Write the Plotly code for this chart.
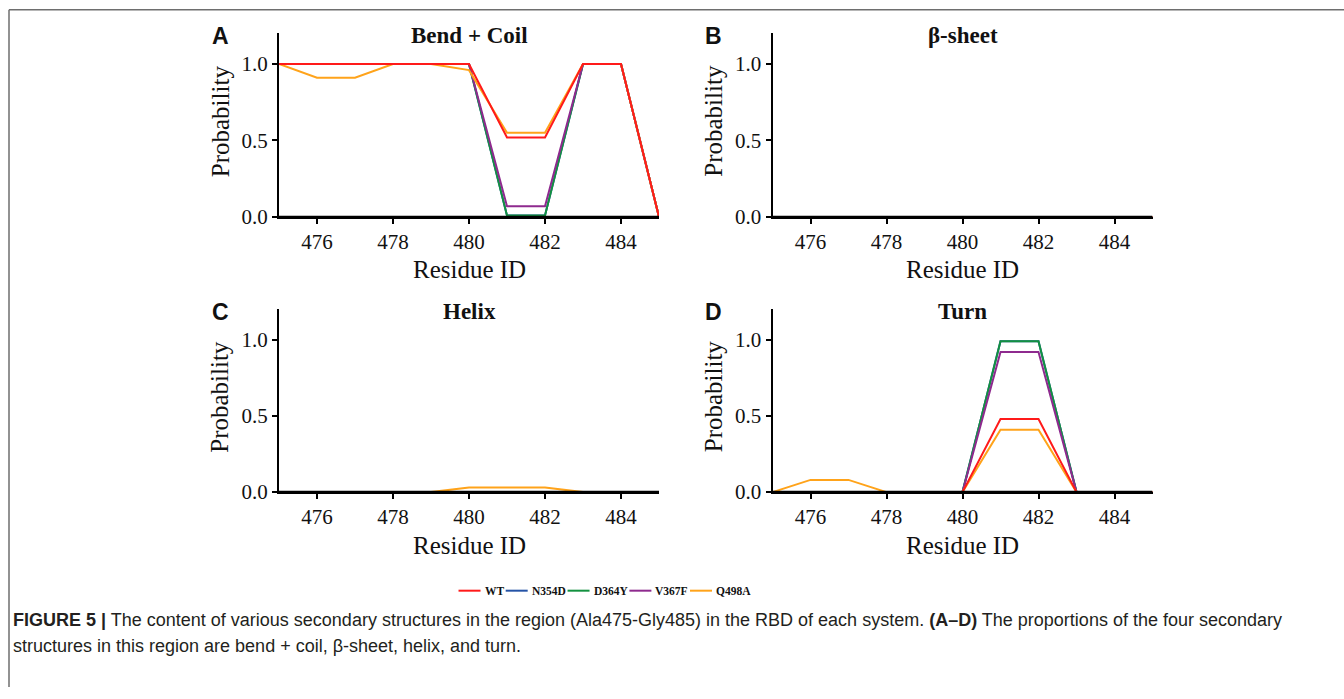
import plotly.graph_objects as go

W, H = 1344, 699

residues = [475, 476, 477, 478, 479, 480, 481, 482, 483, 484, 485]
systems = ["WT", "N354D", "D364Y", "V367F", "Q498A"]
colors = {"WT": "#ff1a1a", "N354D": "#2453a6", "D364Y": "#139140",
          "V367F": "#8e2a8e", "Q498A": "#ffa31a"}

bend_coil = {
    "WT":    [1, 1, 1, 1, 1, 1, 0.52, 0.52, 1, 1, 0],
    "N354D": [1, 1, 1, 1, 1, 1, 0.01, 0.01, 1, 1, 0],
    "D364Y": [1, 1, 1, 1, 1, 1, 0.01, 0.01, 1, 1, 0],
    "V367F": [1, 1, 1, 1, 1, 1, 0.07, 0.07, 1, 1, 0],
    "Q498A": [1, 0.91, 0.91, 1, 1, 0.96, 0.55, 0.55, 1, 1, 0],
}
beta_sheet = {s: [0] * 11 for s in systems}
helix = {
    "WT":    [0] * 11,
    "N354D": [0] * 11,
    "D364Y": [0] * 11,
    "V367F": [0] * 11,
    "Q498A": [0, 0, 0, 0, 0, 0.03, 0.03, 0.03, 0, 0, 0],
}
turn = {
    "WT":    [0, 0, 0, 0, 0, 0, 0.48, 0.48, 0, 0, 0],
    "N354D": [0, 0, 0, 0, 0, 0, 0.99, 0.99, 0, 0, 0],
    "D364Y": [0, 0, 0, 0, 0, 0, 0.99, 0.99, 0, 0, 0],
    "V367F": [0, 0, 0, 0, 0, 0, 0.92, 0.92, 0, 0, 0],
    "Q498A": [0, 0.08, 0.08, 0, 0, 0, 0.41, 0.41, 0, 0, 0],
}

panels = [
    ("A", "Bend + Coil", bend_coil),
    ("B", "β-sheet", beta_sheet),
    ("C", "Helix", helix),
    ("D", "Turn", turn),
]
x_ticks = [476, 478, 480, 482, 484]
y_ticks = [0, 0.5, 1.0]

# pixel geometry of the four plot areas (left, right, top, bottom)
boxes = [
    (279, 659, 34, 220.7),
    (772.5, 1152.5, 34, 220.7),
    (279, 659, 314.7, 500.7),
    (772.5, 1152.5, 314.7, 500.7),
]

draw_order = ["N354D", "D364Y", "V367F", "Q498A", "WT"]

fig = go.Figure()
layout = dict(width=W, height=H, autosize=False,
              margin=dict(l=0, r=0, t=0, b=0),
              paper_bgcolor="white", plot_bgcolor="white",
              showlegend=False)
annotations = []
shapes = []
serif = "Liberation Serif"

for i, (letter, title, data) in enumerate(panels):
    n = "" if i == 0 else str(i + 1)
    l, r, t, b = boxes[i]
    xa = "xaxis" + n
    ya = "yaxis" + n
    for s in draw_order:
        fig.add_trace(go.Scatter(
            x=residues, y=data[s], mode="lines", name=s,
            line=dict(color=colors[s], width=2),
            xaxis="x" + n, yaxis="y" + n, hoverinfo="skip"))
    common = dict(showline=True, linecolor="black", linewidth=2,
                  ticks="outside", ticklen=5, tickwidth=1.5, tickcolor="black",
                  showgrid=False, zeroline=False,
                  tickfont=dict(family=serif, size=21, color="#111"))
    layout[xa] = dict(domain=[l / W, r / W], range=[475, 485],
                      anchor="y" + n, tickvals=x_ticks, **common)
    layout[ya] = dict(domain=[1 - b / H, 1 - t / H], range=[0, 1.2],
                      anchor="x" + n, tickvals=y_ticks, tickformat=".1f", **common)
    # baseline drawn over the traces so that zero-valued lines sit under the axis
    shapes.append(dict(type="line", xref="x" + n, yref="y" + n, x0=475, x1=485, y0=0, y1=0,
                       layer="above", line=dict(color="black", width=2.5)))
    cx = (l + r) / 2
    annotations.append(dict(text="<b>" + title + "</b>", x=cx / W, y=1 - (t + 2) / H,
                            xref="paper", yref="paper", showarrow=False,
                            xanchor="center", yanchor="middle",
                            font=dict(family=serif, size=23, color="#111")))
    annotations.append(dict(text="<b>" + letter + "</b>", x=(l - 59) / W, y=1 - (t + 3) / H,
                            xref="paper", yref="paper", showarrow=False,
                            xanchor="center", yanchor="middle",
                            font=dict(family="Liberation Sans", size=23, color="#111")))
    annotations.append(dict(text="Probability", x=(l - 59) / W, y=1 - ((t + b) / 2 - 4) / H,
                            xref="paper", yref="paper", showarrow=False, textangle=-90,
                            xanchor="center", yanchor="middle",
                            font=dict(family=serif, size=25, color="#111")))
    annotations.append(dict(text="Residue ID", x=cx / W, y=1 - (b + 54) / H,
                            xref="paper", yref="paper", showarrow=False,
                            xanchor="center", yanchor="middle",
                            font=dict(family=serif, size=25, color="#111")))

# legend row (line swatch + bold label), laid out from approximate glyph widths
leg_font = 11.5
leg_line = 22
leg_gap = 3
bold_w = {"W": 1.0, "T": 0.667, "N": 0.722, "D": 0.722, "Y": 0.722, "V": 0.722,
          "F": 0.611, "Q": 0.778, "A": 0.722}
def text_w(s):
    return sum(bold_w.get(c, 0.5) for c in s) * leg_font
total = sum(leg_line + 2 * leg_gap + text_w(s) for s in systems) - leg_gap
x = 604 - total / 2
leg_y = 1 - 601 / H
for s in systems:
    shapes.append(dict(type="line", xref="paper", yref="paper",
                       x0=x / W, x1=(x + leg_line) / W, y0=leg_y, y1=leg_y,
                       line=dict(color=colors[s], width=2)))
    annotations.append(dict(text="<b>" + s + "</b>", x=(x + leg_line + leg_gap - 1) / W, y=leg_y,
                            xref="paper", yref="paper", showarrow=False,
                            xanchor="left", yanchor="middle",
                            font=dict(family=serif, size=leg_font, color="#111")))
    x += leg_line + 2 * leg_gap + text_w(s)

caption1 = ("<b>FIGURE 5 |</b> The content of various secondary structures in the region "
            "(Ala475-Gly485) in the RBD of each system. <b>(A–D)</b> The proportions of the four secondary")
caption2 = "structures in this region are bend + coil, β-sheet, helix, and turn."
for txt, py in [(caption1, 631), (caption2, 657)]:
    annotations.append(dict(text=txt, x=11 / W, y=1 - py / H, xref="paper", yref="paper",
                            showarrow=False, xanchor="left", yanchor="middle",
                            font=dict(family="Liberation Sans", size=18, color="#231f20")))

shapes += [
    dict(type="line", xref="paper", yref="paper", x0=9 / W, x1=1.0, y0=1 - 10 / H, y1=1 - 10 / H,
         line=dict(color="#6e6e6e", width=1.5)),
    dict(type="line", xref="paper", yref="paper", x0=9 / W, x1=9 / W, y0=0, y1=1 - 10 / H,
         line=dict(color="#6e6e6e", width=1.5)),
]
layout["annotations"] = annotations
layout["shapes"] = shapes
fig.update_layout(**layout)
fig.write_html("out.html")
